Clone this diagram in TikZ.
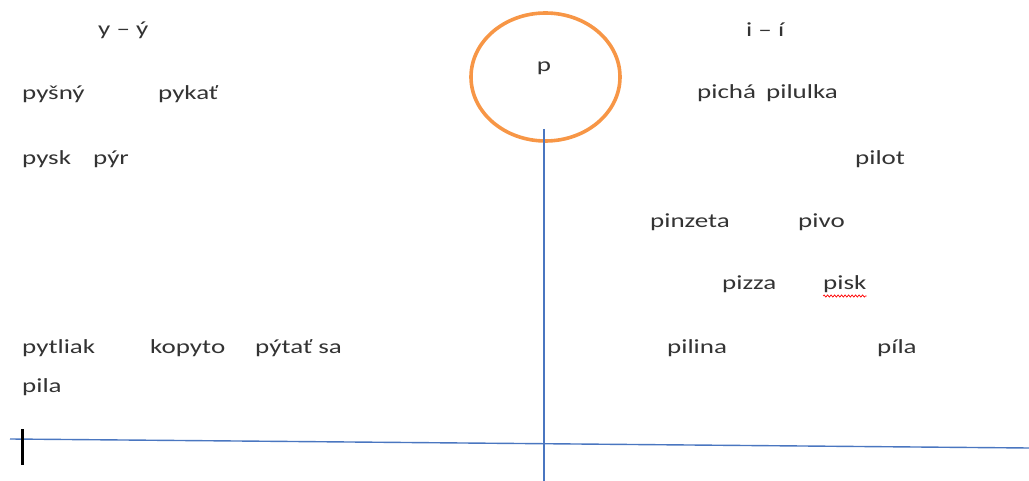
\documentclass[tikz,border=0pt]{standalone}
\usepackage{fontspec}
\setmainfont{Carlito}[FakeStretch=1.35]
\usetikzlibrary{decorations.pathmorphing}
\definecolor{txt}{HTML}{333333}
\definecolor{axisblue}{HTML}{4A76C0}
\definecolor{ringorange}{HTML}{F79646}
\begin{document}
\begin{tikzpicture}[x=1pt,y=1pt,
  word/.style={anchor=base west,inner sep=0pt,font=\fontsize{20}{24}\selectfont,text=txt},
  axis/.style={draw=axisblue,line width=1.4pt},
  ring/.style={draw=ringorange,line width=3.6pt}]
\useasboundingbox (0,0) rectangle (1029,-481);
% ring
\draw[ring] (545.5,-77) ellipse [x radius=74.5, y radius=64];
\node[word,anchor=base] (p) at (544,-72) {p};
% axes
\coordinate (vtop) at (544,-129);
\coordinate (vbot) at (544,-481);
\coordinate (hl) at (10,-439);
\coordinate (hr) at (1029,-448);
\draw[axis] (vtop) -- (vbot);
\draw[axis] (hl) -- (hr);
% cursor
\coordinate (ct) at (22,-429);
\coordinate (cb) at (22,-465);
\draw[black,line width=3pt] (ct) -- (cb);
% left words
\node[word] (yy) at (98,-36) {y – ý};
\node[word] (pysny) at (22,-100) {pyšný};
\node[word] (pykat) at (158,-100) {pykať};
\node[word] (pysk) at (22,-165) {pysk};
\node[word] (pyr) at (93,-165) {pýr};
\node[word] (pytliak) at (22,-353) {pytliak};
\node[word] (kopyto) at (150,-353) {kopyto};
\node[word] (pytat) at (255,-353) {pýtať sa};
\node[word] (pila) at (22,-392) {pila};
% right words
\node[word] (ii) at (746,-37) {i – í};
\node[word] (picha) at (697,-99) {pichá};
\node[word] (pilulka) at (766,-99) {pilulka};
\node[word] (pilot) at (855,-165) {pilot};
\node[word] (pinzeta) at (650,-228) {pinzeta};
\node[word] (pivo) at (798,-228) {pivo};
\node[word] (pizza) at (722,-290) {pizza};
\node[word] (pisk) at (823,-290) {pisk};
\node[word] (pilina) at (667,-353) {pilina};
\node[word] (pila2) at (877,-353) {píla};
% spell-check underline
\draw[red,line width=0.7pt,decorate,decoration={snake,amplitude=1.1pt,segment length=3.5pt}]
  ([yshift=-6pt]pisk.base west) -- ([yshift=-6pt]pisk.base east);
\end{tikzpicture}
\end{document}
